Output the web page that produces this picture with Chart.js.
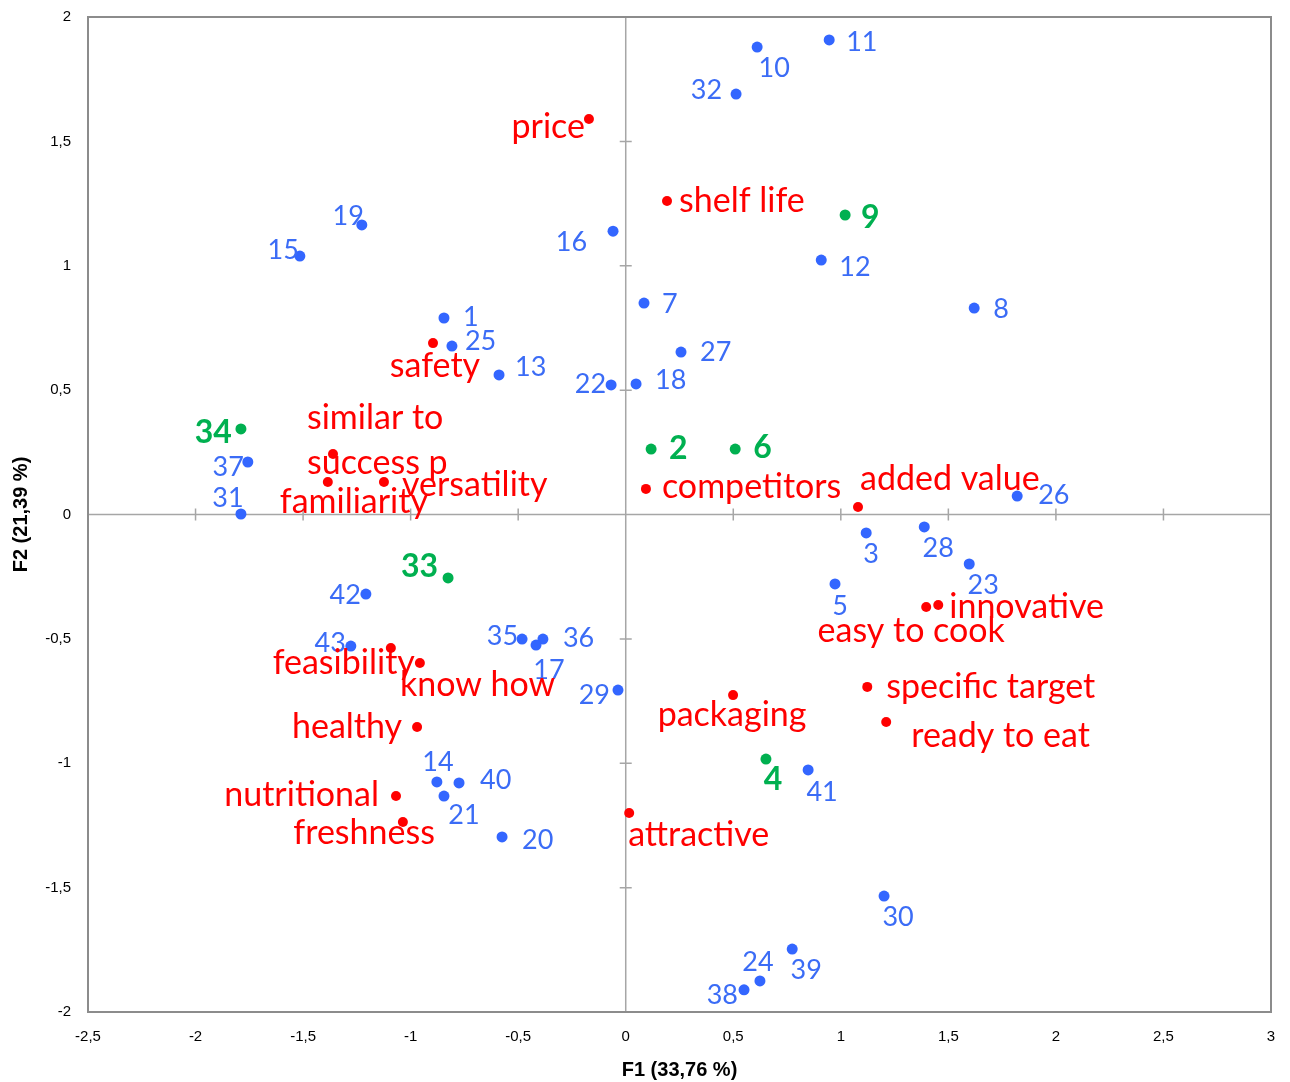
<!DOCTYPE html>
<html>
<head>
<meta charset="utf-8">
<script src="https://cdn.jsdelivr.net/npm/chart.js@4.4.1/dist/chart.umd.min.js"></script>
<style>
  html, body { margin: 0; padding: 0; background: #fff; }
  #wrap { width: 1290px; height: 1082px; }
</style>
</head>
<body>
<div id="wrap"><canvas id="biplot"></canvas></div>
<script>
// observations (blue)
const obsLabels = ['1','25','13','22','18','16','19','15','7','27','10','11','32','12','8','26','37','31','3','28','23','5','42','43','35','36','17','29','14','40','21','20','41','30','39','24','38'];
const obsX = [-0.845,-0.808,-0.589,-0.068,0.048,-0.059,-1.227,-1.515,0.085,0.257,0.611,0.946,0.513,0.909,1.620,1.820,-1.757,-1.789,1.118,1.388,1.597,0.973,-1.208,-1.278,-0.482,-0.385,-0.417,-0.036,-0.878,-0.775,-0.845,-0.575,0.848,1.201,0.774,0.624,0.550];
const obsY = [0.790,0.677,0.561,0.521,0.525,1.139,1.164,1.039,0.850,0.653,1.879,1.908,1.690,1.023,0.830,0.074,0.211,0.002,-0.074,-0.050,-0.199,-0.279,-0.320,-0.529,-0.501,-0.501,-0.525,-0.706,-1.075,-1.079,-1.132,-1.296,-1.027,-1.534,-1.747,-1.875,-1.911];

// variables (red)
const varLabels = ['price','shelf life','safety','similar to\nsuccess p','familiarity','versatility','competitors','added value','innovative','easy to cook','specific target','ready to eat','packaging','attractive','feasibility','know how','healthy','nutritional','freshness'];
const varX = [-0.171,0.192,-0.896,-1.361,-1.385,-1.124,0.094,1.080,1.453,1.397,1.123,1.211,0.499,0.016,-1.092,-0.957,-0.970,-1.068,-1.036];
const varY = [1.590,1.260,0.689,0.243,0.131,0.131,0.103,0.030,-0.364,-0.372,-0.693,-0.834,-0.726,-1.200,-0.537,-0.597,-0.854,-1.132,-1.236];

// supplementary observations (green)
const supLabels = ['34','9','2','6','33','4'];
const supX = [-1.789,1.020,0.118,0.509,-0.826,0.652];
const supY = [0.344,1.204,0.263,0.263,-0.255,-0.983];

// axis ticks
const xTicks = [-2.5,-2,-1.5,-1,-0.5,0,0.5,1,1.5,2,2.5,3];
const yTicks = [-2,-1.5,-1,-0.5,0,0.5,1,1.5,2];

// label placement next to each point: [dx, dy, align]
const obsPlace = [[19,-1,'l'],[13,-5,'l'],[16,-8,'l'],[-5,-1,'r'],[19,-4,'l'],[-26,11,'r'],[2,-9,'r'],[-1,-6,'r'],[18,1,'l'],[19,0,'l'],[17,21,'c'],[17,2,'l'],[-14,-4,'r'],[18,7,'l'],[19,1,'l'],[21,-1,'l'],[-4,5,'r'],[-13,-16,'c'],[5,21,'c'],[14,21,'c'],[14,21,'c'],[5,22,'c'],[-5,1,'r'],[-5,-3,'r'],[-4,-3,'r'],[20,-1,'l'],[13,25,'c'],[-8,5,'r'],[1,-20,'c'],[21,-3,'l'],[20,19,'c'],[20,3,'l'],[14,22,'c'],[14,21,'c'],[14,21,'c'],[-2,-19,'c'],[-6,5,'r']];
const varPlace = [[-4,8,'r'],[12,0,'l'],[2,23,'c'],[-26,-14,'l'],[-48,20,'l'],[18,3,'l'],[16,-2,'l'],[2,-28,'l'],[11,2,'l'],[-15,24,'c'],[19,0,'l'],[25,14,'l'],[-1,20,'c'],[-1,22,'l'],[24,15,'r'],[-20,22,'l'],[-15,0,'r'],[-17,-1,'r'],[32,11,'r']];
const supPlace = [[-9,4,'r'],[16,3,'l'],[18,0,'l'],[18,-1,'l'],[-10,-11,'r'],[7,21,'c']];

const toPoints = (xs, ys) => xs.map((x, i) => ({ x: x, y: ys[i] }));
const fmt = v => String(v).replace('.', ',');

const pointLabels = {
    id: 'pointLabels',
    afterDatasetsDraw(chart) {
        const ctx = chart.ctx;
        chart.data.datasets.forEach((ds, di) => {
            const meta = chart.getDatasetMeta(di);
            ctx.save();
            ctx.fillStyle = ds.labelColor;
            ctx.font = ds.labelFont;
            ctx.textBaseline = 'middle';
            meta.data.forEach((pt, i) => {
                const p = ds.place[i];
                ctx.textAlign = p[2] === 'l' ? 'left' : (p[2] === 'r' ? 'right' : 'center');
                const lines = ds.labels[i].split('\n');
                const lh = 45;
                const y0 = pt.y + p[1] - (lines.length - 1) * lh / 2;
                lines.forEach((t, k) => ctx.fillText(t, pt.x + p[0], y0 + k * lh));
            });
            ctx.restore();
        });
    }
};

const frame = {
    id: 'frame',
    beforeDatasetsDraw(chart) {
        const { ctx, chartArea: a, scales } = chart;
        const x0 = scales.x.getPixelForValue(0);
        const y0 = scales.y.getPixelForValue(0);
        ctx.save();
        ctx.strokeStyle = '#a6a6a6';
        ctx.lineWidth = 1.5;
        ctx.beginPath();
        ctx.moveTo(a.left, y0); ctx.lineTo(a.right, y0);
        ctx.moveTo(x0, a.top); ctx.lineTo(x0, a.bottom);
        xTicks.forEach(v => {
            const px = scales.x.getPixelForValue(v);
            ctx.moveTo(px, y0 - 6); ctx.lineTo(px, y0 + 6);
        });
        yTicks.forEach(v => {
            const py = scales.y.getPixelForValue(v);
            ctx.moveTo(x0 - 6, py); ctx.lineTo(x0 + 6, py);
        });
        ctx.stroke();
        ctx.strokeStyle = '#8c8c8c';
        ctx.lineWidth = 2;
        ctx.strokeRect(a.left, a.top, a.right - a.left, a.bottom - a.top);
        ctx.restore();
    }
};

const tickFont = { family: 'Liberation Sans', size: 15 };
const titleFont = { family: 'Liberation Sans', size: 20, weight: 'bold' };

const ctx = document.getElementById('biplot').getContext('2d');
new Chart(ctx, {
    type: 'scatter',
    data: {
        datasets: [
            {
                data: toPoints(obsX, obsY), labels: obsLabels, place: obsPlace,
                backgroundColor: '#3366ff', pointRadius: 5.5, pointBorderWidth: 0,
                labelColor: '#3b6cf6', labelFont: '27px Lato'
            },
            {
                data: toPoints(varX, varY), labels: varLabels, place: varPlace,
                backgroundColor: '#ff0000', pointRadius: 5, pointBorderWidth: 0,
                labelColor: '#ff0000', labelFont: '34px Lato'
            },
            {
                data: toPoints(supX, supY), labels: supLabels, place: supPlace,
                backgroundColor: '#00b050', pointRadius: 5.5, pointBorderWidth: 0,
                labelColor: '#00b050', labelFont: 'bold 32px Lato'
            }
        ]
    },
    options: {
        responsive: true,
        maintainAspectRatio: false,
        animation: false,
        layout: { padding: { left: 0, top: 17, right: 19, bottom: 0 } },
        plugins: { legend: { display: false }, tooltip: { enabled: false } },
        scales: {
            x: {
                type: 'linear', min: -2.5, max: 3,
                afterBuildTicks: s => { s.ticks = xTicks.map(v => ({ value: v })); },
                afterFit: s => { s.height = 70; s.paddingLeft = 0; s.paddingRight = 0; },
                grid: { display: false, drawTicks: false },
                border: { display: false },
                ticks: { padding: 16, color: '#000', font: tickFont, callback: v => fmt(v), maxRotation: 0 },
                title: { display: true, text: 'F1 (33,76 %)', color: '#000', font: titleFont, padding: { top: 0, bottom: 0 } }
            },
            y: {
                type: 'linear', min: -2, max: 2,
                afterBuildTicks: s => { s.ticks = yTicks.map(v => ({ value: v })); },
                afterFit: s => { s.width = 88; s.paddingTop = 0; s.paddingBottom = 0; },
                grid: { display: false, drawTicks: false },
                border: { display: false },
                ticks: { padding: 17, color: '#000', font: tickFont, callback: v => fmt(v) },
                title: { display: true, text: 'F2 (21,39 %)', color: '#000', font: titleFont, padding: { top: 9, bottom: 0 } }
            }
        }
    },
    plugins: [frame, pointLabels]
});
</script>
</body>
</html>
